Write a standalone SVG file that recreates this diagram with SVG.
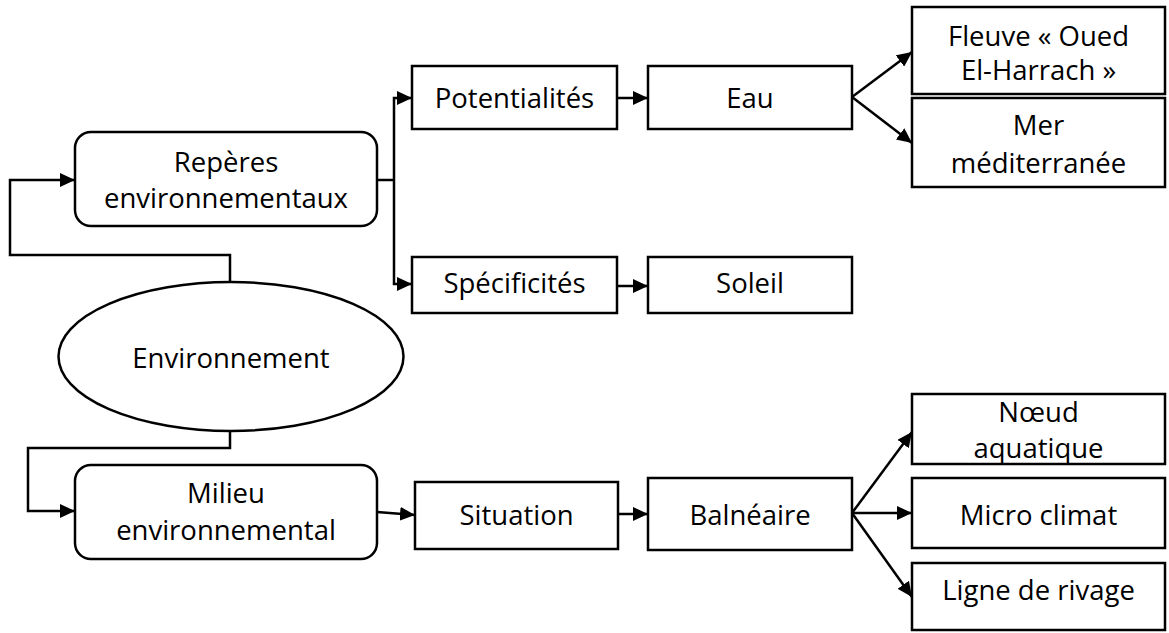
<svg xmlns="http://www.w3.org/2000/svg" width="1169" height="633" viewBox="0 0 1169 633">
  <defs>
    <marker id="arrow" markerUnits="userSpaceOnUse" markerWidth="15" markerHeight="14" refX="15" refY="7" orient="auto">
      <path d="M0,0 L15,7 L0,14 z" fill="#000"/>
    </marker>
    <style>
      .box { fill: #fff; stroke: #000; stroke-width: 2.5; }
      .lbl { font-family: "Open Sans", "Liberation Sans", sans-serif; font-size: 27.5px; fill: #000; text-anchor: middle; }
      .con { fill: none; stroke: #000; stroke-width: 2.5; }
      .arr { marker-end: url(#arrow); }
    </style>
  </defs>
  <rect width="1169" height="633" fill="#fff"/>

  <!-- connectors -->
  <g id="connectors">
    <polyline class="con arr" points="230,282 230,255 10,255 10,180 75,180"/>
    <polyline class="con" points="377,180 394,180"/>
    <polyline class="con arr" points="394,180 394,98 412,98"/>
    <polyline class="con arr" points="394,180 394,284 412,284"/>
    <line class="con arr" x1="617" y1="98" x2="648" y2="98"/>
    <line class="con arr" x1="617" y1="286" x2="648" y2="286"/>
    <line class="con arr" x1="852" y1="97" x2="912" y2="52"/>
    <line class="con arr" x1="852" y1="97" x2="912" y2="143"/>
    <polyline class="con arr" points="230,431 230,448 28,448 28,511 75,511"/>
    <line class="con arr" x1="377" y1="512" x2="415" y2="515"/>
    <line class="con arr" x1="618" y1="514" x2="648" y2="514"/>
    <line class="con arr" x1="852" y1="513" x2="912" y2="432"/>
    <line class="con arr" x1="852" y1="513" x2="912" y2="513"/>
    <line class="con arr" x1="852" y1="513" x2="912" y2="597"/>
  </g>

  <g id="environnement">
    <ellipse class="box" cx="231" cy="356.5" rx="172.5" ry="74.5"/>
    <text class="lbl" x="231" y="368">Environnement</text>
  </g>

  <g id="reperes">
    <rect class="box" x="75" y="132" width="302" height="94" rx="16"/>
    <text class="lbl" x="226" y="172">Repères</text>
    <text class="lbl" x="226" y="208">environnementaux</text>
  </g>

  <g id="potentialites">
    <rect class="box" x="412" y="66" width="205" height="63"/>
    <text class="lbl" x="514.5" y="108">Potentialités</text>
  </g>

  <g id="specificites">
    <rect class="box" x="412" y="257" width="205" height="56"/>
    <text class="lbl" x="514.5" y="293">Spécificités</text>
  </g>

  <g id="eau">
    <rect class="box" x="648" y="66" width="204" height="63"/>
    <text class="lbl" x="750" y="108">Eau</text>
  </g>

  <g id="soleil">
    <rect class="box" x="648" y="257" width="204" height="56"/>
    <text class="lbl" x="750" y="293">Soleil</text>
  </g>

  <g id="fleuve">
    <rect class="box" x="912" y="7" width="253" height="87"/>
    <text class="lbl" x="1038.5" y="46">Fleuve « Oued</text>
    <text class="lbl" x="1038.5" y="80">El-Harrach »</text>
  </g>

  <g id="mer">
    <rect class="box" x="912" y="98" width="253" height="89"/>
    <text class="lbl" x="1038.5" y="135">Mer</text>
    <text class="lbl" x="1038.5" y="173">méditerranée</text>
  </g>

  <g id="milieu">
    <rect class="box" x="75" y="465" width="302" height="94" rx="16"/>
    <text class="lbl" x="226" y="503">Milieu</text>
    <text class="lbl" x="226" y="540">environnemental</text>
  </g>

  <g id="situation">
    <rect class="box" x="415" y="482" width="203" height="67"/>
    <text class="lbl" x="516.5" y="525">Situation</text>
  </g>

  <g id="balneaire">
    <rect class="box" x="648" y="478" width="204" height="72"/>
    <text class="lbl" x="750" y="525">Balnéaire</text>
  </g>

  <g id="noeud">
    <rect class="box" x="912" y="394" width="253" height="70"/>
    <text class="lbl" x="1038.5" y="422">Nœud</text>
    <text class="lbl" x="1038.5" y="458">aquatique</text>
  </g>

  <g id="micro-climat">
    <rect class="box" x="912" y="478" width="253" height="70"/>
    <text class="lbl" x="1038.5" y="525">Micro climat</text>
  </g>

  <g id="ligne-rivage">
    <rect class="box" x="912" y="563" width="253" height="67"/>
    <text class="lbl" x="1038.5" y="600">Ligne de rivage</text>
  </g>
</svg>
